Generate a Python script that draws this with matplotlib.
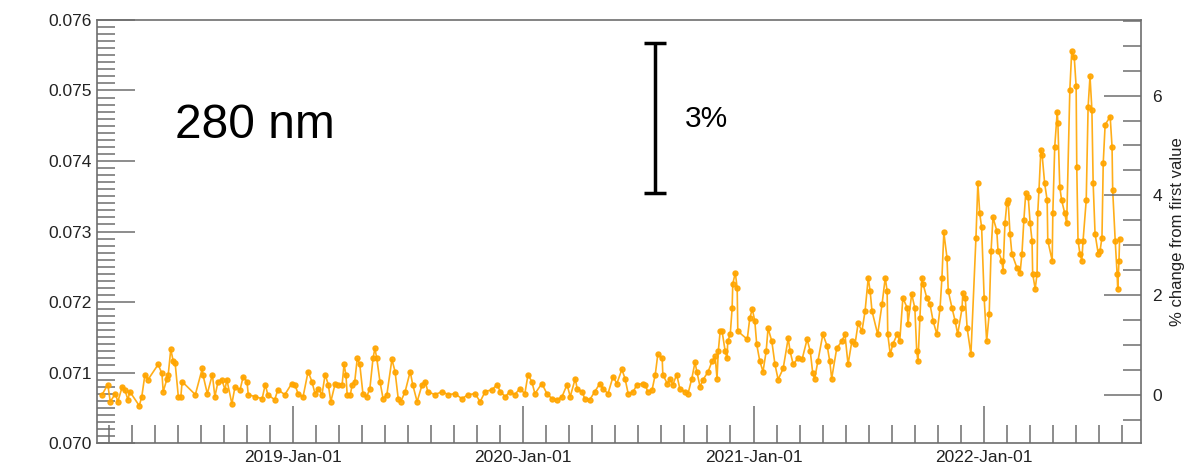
import numpy as np
import matplotlib
matplotlib.use('Agg')
import matplotlib.pyplot as plt
import matplotlib.dates as mdates
from matplotlib.ticker import FixedLocator, MultipleLocator, FormatStrFormatter

plt.rcParams['font.family'] = ['Liberation Sans', 'DejaVu Sans']

# series start date; days are offsets from it
start = np.datetime64('2018-02-24')
days = [8, 17, 21, 29, 33, 40, 44, 49, 52, 67, 71, 76, 81, 97, 103, 105, 111, 113, 117, 121,
        124, 129, 133, 135, 156, 167, 168, 175, 183, 187, 192, 198, 203, 206, 214, 219, 227, 232, 238, 240,
        251, 262, 267, 271, 282, 287, 298, 309, 314, 319, 327, 335, 341, 346, 351, 357, 362, 367, 371, 378,
        382, 389, 392, 395, 397, 402, 405, 409, 413, 417, 422, 428, 433, 438, 441, 444, 449, 454, 460, 468,
        473, 478, 482, 489, 497, 501, 508, 516, 521, 525, 536, 548, 557, 568, 579, 589, 600, 608, 616, 627,
        635, 640, 648, 655, 663, 671, 679, 684, 690, 695, 706, 714, 722, 730, 738, 746, 751, 759, 762, 770,
        774, 782, 790, 798, 803, 811, 819, 825, 833, 838, 843, 851, 857, 867, 870, 874, 881, 886, 890, 897,
        898, 905, 909, 914, 920, 925, 933, 938, 944, 949, 952, 957, 962, 970, 976, 981, 984, 986, 989, 992,
        997, 1000, 1001, 1005, 1008, 1009, 1013, 1016, 1017, 1032, 1036, 1040, 1044, 1047, 1052, 1057, 1062, 1065, 1071, 1076,
        1081, 1089, 1097, 1100, 1105, 1112, 1119, 1127, 1132, 1136, 1139, 1144, 1152, 1159, 1163, 1166, 1174, 1182, 1187, 1192,
        1198, 1203, 1208, 1214, 1219, 1224, 1227, 1230, 1239, 1246, 1251, 1254, 1255, 1259, 1263, 1270, 1274, 1279, 1286, 1287,
        1293, 1298, 1301, 1303, 1306, 1309, 1311, 1317, 1322, 1327, 1333, 1338, 1341, 1344, 1349, 1351, 1357, 1362, 1366, 1373,
        1374, 1378, 1381, 1387, 1395, 1398, 1401, 1404, 1408, 1412, 1416, 1419, 1422, 1428, 1430, 1436, 1438, 1441, 1444, 1446,
        1449, 1452, 1460, 1465, 1468, 1471, 1474, 1478, 1481, 1484, 1485, 1489, 1492, 1493, 1495, 1498, 1500, 1504, 1508, 1509,
        1516, 1517, 1520, 1524, 1525, 1528, 1531, 1536, 1539, 1544, 1547, 1551, 1554, 1555, 1557, 1560, 1563, 1565, 1570, 1573,
        1576, 1579, 1581, 1584, 1589, 1592, 1595, 1597, 1600, 1608, 1611, 1612, 1616, 1619, 1620, 1622, 1623]

irradiance = [0.070686, 0.070829, 0.070586, 0.070700, 0.070586, 0.070800, 0.070757, 0.070614, 0.070729, 0.070529,
              0.070657, 0.070971, 0.070900, 0.071114, 0.070986, 0.070729, 0.070914, 0.070971, 0.071329, 0.071157,
              0.071129, 0.070657, 0.070657, 0.070871, 0.070686, 0.071057, 0.070971, 0.070700, 0.070971, 0.070657,
              0.070871, 0.070900, 0.070757, 0.070900, 0.070557, 0.070800, 0.070757, 0.070943, 0.070871, 0.070686,
              0.070657, 0.070629, 0.070829, 0.070686, 0.070614, 0.070757, 0.070686, 0.070843, 0.070829, 0.070700,
              0.070657, 0.071014, 0.070871, 0.070700, 0.070771, 0.070686, 0.070971, 0.070829, 0.070586, 0.070843,
              0.070829, 0.070829, 0.071114, 0.070971, 0.070686, 0.070686, 0.070829, 0.070871, 0.071200, 0.071114,
              0.070700, 0.070657, 0.070771, 0.071200, 0.071343, 0.071200, 0.070871, 0.070629, 0.070686, 0.071186,
              0.071014, 0.070629, 0.070586, 0.070729, 0.071014, 0.070829, 0.070586, 0.070829, 0.070871, 0.070729,
              0.070686, 0.070729, 0.070686, 0.070700, 0.070629, 0.070686, 0.070700, 0.070586, 0.070729, 0.070757,
              0.070829, 0.070729, 0.070657, 0.070729, 0.070686, 0.070771, 0.070700, 0.070971, 0.070871, 0.070700,
              0.070843, 0.070700, 0.070629, 0.070614, 0.070657, 0.070829, 0.070657, 0.070914, 0.070771, 0.070729,
              0.070629, 0.070614, 0.070729, 0.070843, 0.070771, 0.070700, 0.070943, 0.070843, 0.071043, 0.070914,
              0.070700, 0.070729, 0.070829, 0.070843, 0.070829, 0.070729, 0.070757, 0.070971, 0.071257, 0.071200,
              0.070971, 0.070843, 0.070914, 0.070829, 0.070971, 0.070771, 0.070729, 0.070700, 0.070914, 0.071143,
              0.071014, 0.070800, 0.070900, 0.071014, 0.071157, 0.071229, 0.070914, 0.071300, 0.071586, 0.071586,
              0.071300, 0.071200, 0.071443, 0.071543, 0.071914, 0.072257, 0.072414, 0.072200, 0.071586, 0.071471,
              0.071771, 0.071900, 0.071729, 0.071400, 0.071157, 0.071014, 0.071300, 0.071629, 0.071443, 0.071114,
              0.070900, 0.071057, 0.071486, 0.071300, 0.071114, 0.071200, 0.071186, 0.071471, 0.071300, 0.070986,
              0.070914, 0.071157, 0.071543, 0.071371, 0.071157, 0.070914, 0.071343, 0.071443, 0.071543, 0.071114,
              0.071443, 0.071400, 0.071700, 0.071586, 0.071871, 0.072343, 0.072157, 0.071871, 0.071543, 0.071971,
              0.072343, 0.072157, 0.071543, 0.071257, 0.071400, 0.071543, 0.071443, 0.072057, 0.071914, 0.071686,
              0.072114, 0.071914, 0.071300, 0.071157, 0.071771, 0.072343, 0.072257, 0.072057, 0.071971, 0.071729,
              0.071543, 0.071914, 0.072343, 0.072986, 0.072629, 0.072157, 0.071914, 0.071729, 0.071543, 0.071914,
              0.072129, 0.072057, 0.071629, 0.071257, 0.072914, 0.073686, 0.073257, 0.073057, 0.072057, 0.071443,
              0.071829, 0.072729, 0.073200, 0.073014, 0.072729, 0.072586, 0.072443, 0.073114, 0.073400, 0.073443,
              0.072971, 0.072686, 0.072486, 0.072414, 0.072686, 0.073157, 0.073543, 0.073486, 0.073114, 0.072871,
              0.072400, 0.072186, 0.072400, 0.073257, 0.073586, 0.074157, 0.074086, 0.073686, 0.073443, 0.072871,
              0.072586, 0.073257, 0.074200, 0.074700, 0.074543, 0.073629, 0.073443, 0.073257, 0.073114, 0.075014,
              0.075557, 0.075471, 0.075057, 0.073914, 0.072871, 0.072686, 0.072586, 0.072871, 0.073443, 0.074771,
              0.075200, 0.074729, 0.073686, 0.072971, 0.072686, 0.072729, 0.072914, 0.073971, 0.074514, 0.074629,
              0.074200, 0.073586, 0.072871, 0.072400, 0.072186, 0.072586, 0.072900]

year_labels = ['2019-Jan-01', '2020-Jan-01', '2021-Jan-01', '2022-Jan-01']

dates = start + np.array(days, dtype='timedelta64[D]')
irr = np.array(irradiance)
v0 = irr[0]

spine_col = '#6e6e6e'
fig = plt.figure(figsize=(11.85, 4.65), dpi=100)
ax = fig.add_axes([0.0819, 0.0473, 0.881, 0.9097])

ax.plot(dates, irr, '-o', color='#ffa500', lw=1.2, ms=3.6, mec='#ffa500', alpha=0.9)

x0 = mdates.date2num(np.datetime64('2018-02-24'))
x1 = mdates.date2num(np.datetime64('2022-09-08'))
ax.set_xlim(x0, x1)
ax.set_ylim(0.070, 0.076)

# year ticks, and ten minor ticks per year
majors = [mdates.date2num(np.datetime64(l[:4] + '-01-01')) for l in year_labels]
minors = []
for yr in range(2018, 2023):
    a = mdates.date2num(np.datetime64(f'{yr}-01-01'))
    b = mdates.date2num(np.datetime64(f'{yr + 1}-01-01'))
    minors += [a + k * (b - a) / 10 for k in range(1, 10)]
ax.xaxis.set_major_locator(FixedLocator(majors))
ax.set_xticklabels(year_labels)
ax.xaxis.set_minor_locator(FixedLocator(minors))

ax.yaxis.set_major_locator(MultipleLocator(0.001))
ax.yaxis.set_minor_locator(MultipleLocator(0.0001))
ax.yaxis.set_major_formatter(FormatStrFormatter('%.3f'))

for s in ax.spines.values():
    s.set_color(spine_col)
    s.set_linewidth(1.2)

ax.tick_params(axis='both', which='major', direction='in', length=27, width=1.1, color=spine_col,
               labelsize=12.5, labelcolor='#222222')
ax.tick_params(axis='both', which='minor', direction='in', length=13, width=1.1, color=spine_col)
ax.tick_params(axis='y', which='both', right=False)
ax.tick_params(axis='x', which='both', top=False, pad=5)

# right axis: percent change from first value
ax2 = ax.twinx()
ax2.set_ylim((0.070 / v0 - 1) * 100, (0.076 / v0 - 1) * 100)
ax2.yaxis.set_major_locator(MultipleLocator(2))
ax2.yaxis.set_minor_locator(MultipleLocator(0.5))
ax2.tick_params(axis='y', which='major', direction='in', length=27, width=1.1, color=spine_col,
                labelsize=12.5, labelcolor='#222222', pad=8)
ax2.tick_params(axis='y', which='minor', direction='in', length=13, width=1.1, color=spine_col)
for s in ax2.spines.values():
    s.set_visible(False)
ax2.set_ylabel('% change from first value', fontsize=12, color='#222222', labelpad=6)

# annotations
ax.text(0.075, 0.75, '280 nm', transform=ax.transAxes, fontsize=34.5, va='center', ha='left')
bar_x = mdates.date2num(np.datetime64('2020-07-29'))
bar_top = 0.07567
bar_bot = bar_top - 0.03 * v0
ax.errorbar([bar_x], [(bar_top + bar_bot) / 2], yerr=[(bar_top - bar_bot) / 2], color='black',
            lw=2.5, capsize=8, capthick=2.5)
ax.text(0.563, 0.765, '3%', transform=ax.transAxes, fontsize=21.5, va='center', ha='left')

plt.savefig('out.png', dpi=100)
